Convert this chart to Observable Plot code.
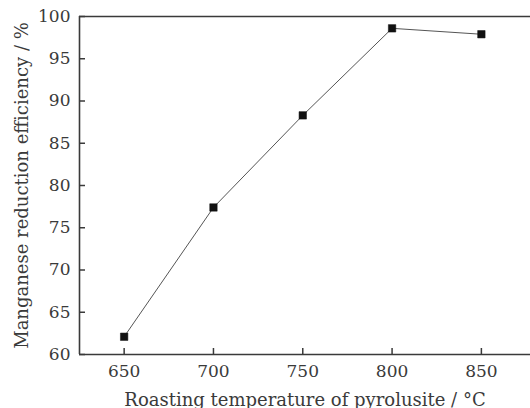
<!DOCTYPE html>
<html>
<head>
<meta charset="utf-8">
<script src="https://cdn.jsdelivr.net/npm/d3@7"></script>
<script src="https://cdn.jsdelivr.net/npm/@observablehq/plot@0.6"></script>
<style>
  html, body { margin: 0; padding: 0; background: #fff; }
  svg { display: block; }
</style>
</head>
<body>
<div id="chart"></div>
<script>
const temperatures = [650, 700, 750, 800, 850];
const efficiency = [62.1, 77.4, 88.3, 98.6, 97.9];
const xTicks = [650, 700, 750, 800, 850];
const yTicks = [60, 65, 70, 75, 80, 85, 90, 95, 100];
const xLabel = "Roasting temperature of pyrolusite / °C";
const yLabel = "Manganese reduction efficiency / %";

const data = temperatures.map((t, i) => ({t, e: efficiency[i]}));
const xDomain = [625, 877.5];
const yDomain = [60, 100];
const ink = "#3a3a3a";
const font = "'DejaVu Serif', serif";

const plot = Plot.plot({
  width: 530,
  height: 408,
  marginTop: 16,
  marginBottom: 54,
  marginLeft: 79,
  marginRight: 0,
  style: {fontFamily: font, fontSize: "17px", color: ink, background: "#fff"},
  x: {domain: xDomain},
  y: {domain: yDomain},
  marks: [
    Plot.axisX(xTicks, {tickSize: 0, tickPadding: 10, fontSize: 17, label: null, fill: ink}),
    Plot.axisY(yTicks, {tickSize: 0, tickPadding: 9, fontSize: 17, label: null, fill: ink}),
    Plot.ruleX(xTicks, {y1: 60, y2: 60 + 6 / 8.45, stroke: ink, strokeWidth: 1.5}),
    Plot.ruleY(yTicks, {x1: 625, x2: 625 + 6 / 1.785, stroke: ink, strokeWidth: 1.5}),
    Plot.ruleY([60, 100], {stroke: ink, strokeWidth: 1.6}),
    Plot.ruleX([625], {stroke: ink, strokeWidth: 1.6}),
    Plot.line(data, {x: "t", y: "e", stroke: "#555", strokeWidth: 1}),
    Plot.dot(data, {x: "t", y: "e", symbol: "square", r: 4.2, fill: "#111", stroke: "#111", strokeWidth: 0.5}),
    Plot.text([xLabel], {frameAnchor: "bottom", dy: 51, fontSize: 18, fill: ink, text: d => d, lineAnchor: "bottom"}),
    Plot.text([yLabel], {frameAnchor: "left", dx: -57, rotate: -90, textAnchor: "middle", fontSize: 18, fill: ink, text: d => d})
  ]
});
document.getElementById("chart").appendChild(plot);
</script>
</body>
</html>
